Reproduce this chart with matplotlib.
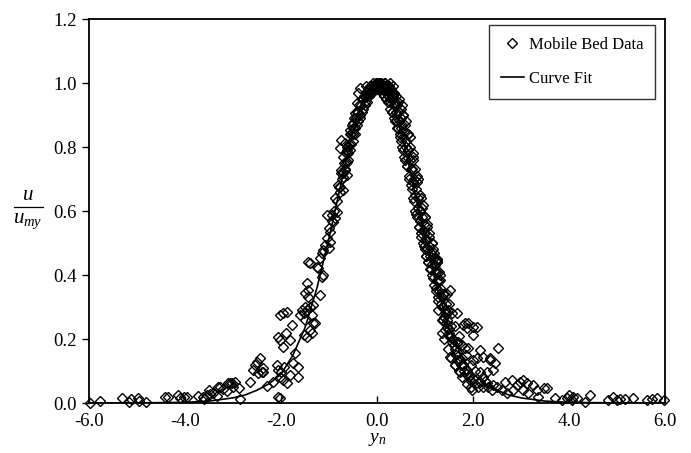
import matplotlib
matplotlib.use("Agg")
import matplotlib.pyplot as plt
from matplotlib.lines import Line2D

plt.rcParams['font.family'] = ['Liberation Serif', 'DejaVu Serif']
plt.rcParams['mathtext.fontset'] = 'custom'
plt.rcParams['mathtext.it'] = 'Liberation Serif:italic'
plt.rcParams['mathtext.rm'] = 'Liberation Serif'

data_yn = [
    # far left tail
    -5.98, -5.77, -5.32, -5.16, -5.13, -4.97, -4.95, -4.81,
    -4.42, -4.35, -4.14, -4.10, -4.03, -3.96,
    -3.72, -3.60, -3.51, -3.48, -3.34, -3.31, -3.21, -3.13, -3.10, -3.03,
    -2.99, -2.96, -2.87, -2.85, -2.65, -3.06, -3.27, -3.41, -3.55, -3.62,
    # left scatter around -2.5 .. -1.3
    -2.54, -2.51, -2.44, -2.40, -2.38, -2.30, -2.58, -2.47, -2.37,
    -2.16, -2.09, -2.06, -2.02, -2.02, -1.99, -1.95, -1.94, -1.88, -1.81,
    -1.74, -1.71, -1.64, -1.64, -2.06, -2.02, -1.95, -1.90, -1.81, -1.78,
    -2.02, -1.96, -1.88, -1.60, -1.53, -1.50, -1.46, -1.40, -1.36, -1.33,
    -1.36, -1.33, -2.06, -1.46, -1.43, -1.50, -1.40, -1.26, -1.29,
    -1.40, -1.46, -1.53, -1.57, -1.50, -1.43, -1.19,
    # left flank
    -1.43, -1.22, -1.15, -1.12, -1.19, -1.15, -1.12, -1.08, -1.05, -1.01,
    -0.98, -1.05, -1.01, -0.98, -0.94, -0.91, -0.87, -0.84, -0.80, -0.77,
    -0.70, -0.67, -0.63, -0.63, -0.70, -0.74, -0.70, -0.77, -0.63, -0.67,
    -0.74, -0.70, -0.56, -0.49, -0.46, -0.42, -0.39, -0.35,
    -0.02, -0.05, -0.08, -0.10, -0.12, -0.15, -0.18, -0.20, -0.22, -0.25,
    -0.27, -0.30, -0.32, -0.35, -0.37, -0.40, -0.42, -0.45, -0.47, -0.50,
    -0.52, -0.55, -0.57, -0.60, -0.62, -0.65,
    -0.01, -0.03, -0.06, -0.09, -0.11, -0.14, -0.16, -0.19, -0.21, -0.24,
    -0.26, -0.29, -0.31, -0.34, -0.36, -0.39, -0.41, -0.44, -0.46, -0.49,
    -0.51, -0.54, -0.56, -0.59, -0.61, -0.64, -0.66, -0.69, -0.72, -0.75,
    -0.78, -0.81, -0.84, -0.87, -0.90, -0.93, -0.22,
    # right band
    0.00, 0.02, 0.04, 0.05, 0.07, 0.09, 0.10, 0.12, 0.14, 0.15, 0.17, 0.19,
    0.20, 0.22, 0.24, 0.25, 0.27, 0.29, 0.30, 0.32, 0.34, 0.35, 0.37, 0.39,
    0.40, 0.42, 0.44, 0.45, 0.47, 0.49, 0.50, 0.52, 0.54, 0.55, 0.57, 0.59,
    0.60, 0.62, 0.64, 0.65, 0.67, 0.69, 0.70, 0.72, 0.74, 0.75, 0.77, 0.79,
    0.80, 0.82, 0.84, 0.85, 0.87, 0.89, 0.90, 0.92, 0.94, 0.95, 0.97, 0.99,
    1.00, 1.02, 1.04, 1.05, 1.07, 1.09, 1.10, 1.12, 1.14, 1.15, 1.17, 1.19,
    1.20, 1.22, 1.24, 1.25, 1.27, 1.29, 1.30, 1.33, 1.36, 1.38, 1.40, 1.44,
    1.46, 1.50, 1.55, 1.58, 1.62, 1.68,
    0.45, 0.55, 0.65, 0.75, 0.85, 0.95, 1.05, 1.15, 1.25,
    0.01, 0.03, 0.05, 0.07, 0.09, 0.11, 0.13, 0.15, 0.17, 0.19, 0.21, 0.23,
    0.25, 0.27, 0.29, 0.31, 0.33, 0.35, 0.37, 0.39, 0.41, 0.43, 0.45, 0.47,
    0.49, 0.51, 0.53, 0.55, 0.57, 0.59, 0.61, 0.63, 0.65, 0.67, 0.69, 0.71,
    0.73, 0.75, 0.77, 0.79, 0.81, 0.83, 0.85, 0.87, 0.89, 0.91, 0.93, 0.95,
    0.97, 0.99, 1.01, 1.03, 1.05, 1.07, 1.09, 1.11, 1.13, 1.15, 1.17, 1.19,
    1.21, 1.23, 1.25, 1.27, 1.29,
    0.28, 0.33, 0.36, 0.52, 0.60, 0.68, 0.76, 0.84, 0.92, 1.00, 1.08, 1.16,
    1.24, 1.32, 1.40,
    1.17, 1.24, 1.52, 1.31, 1.66, 1.83, 2.00, 1.38, 1.45,
    # right lower band and scatter
    1.28, 1.45, 1.35, 1.42, 1.52, 1.66, 1.80, 1.87, 2.00, 1.90, 2.15, 2.08,
    2.35, 2.46, 2.29, 2.15, 1.83,
    1.52, 1.66, 1.80, 1.87, 1.94, 2.00, 2.15, 2.29, 2.42, 1.97, 1.73, 1.63,
    2.53, 1.90, 2.08, 2.21, 2.35, 2.42, 2.00,
    1.32, 1.35, 1.37, 1.41, 1.43, 1.47, 1.49, 1.53, 1.56, 1.60, 1.64, 1.67,
    1.70, 1.75, 1.78, 1.82, 1.85, 1.92, 1.96, 2.05, 2.10, 2.20, 2.25, 2.32,
    2.40, 2.50, 2.60,
    1.45, 1.50, 1.56, 1.62, 1.70, 1.78, 1.86, 1.95, 2.05, 2.20,
    1.35, 1.40, 1.48, 1.55, 1.62, 1.70, 1.78, 1.88, 1.95,
    # right tail
    2.67, 2.81, 2.91, 2.98, 3.05, 3.12, 3.26, 3.33, 3.47, 3.54, 3.36, 3.05,
    3.15, 2.70, 2.84,
    3.71, 3.85, 3.95, 3.99, 4.09, 4.06, 4.16, 4.33, 4.44,
    4.82, 4.92, 4.99, 5.06, 5.17, 5.34, 5.62, 5.72, 5.83, 5.97,
]
data_u = [
    0.000, 0.005, 0.016, 0.003, 0.012, 0.017, 0.006, 0.004,
    0.020, 0.020, 0.025, 0.015, 0.018, 0.018,
    0.022, 0.013, 0.040, 0.028, 0.022, 0.050, 0.043, 0.038, 0.062, 0.063,
    0.050, 0.066, 0.048, 0.012, 0.066, 0.061, 0.051, 0.030, 0.025, 0.020,
    0.119, 0.129, 0.140, 0.098, 0.108, 0.053, 0.103, 0.093, 0.098,
    0.067, 0.119, 0.103, 0.015, 0.082, 0.098, 0.072, 0.113, 0.061, 0.088,
    0.124, 0.155, 0.082, 0.113, 0.207, 0.197, 0.176, 0.218, 0.197, 0.244,
    0.275, 0.280, 0.285, 0.275, 0.280, 0.260, 0.290, 0.300, 0.275, 0.250,
    0.218, 0.306, 0.020, 0.374, 0.353, 0.343, 0.437, 0.426, 0.250,
    0.228, 0.207, 0.213, 0.291, 0.301, 0.332, 0.338,
    0.442, 0.421, 0.395, 0.400, 0.452, 0.468, 0.478, 0.494, 0.515, 0.546,
    0.535, 0.588, 0.483, 0.504, 0.588, 0.567, 0.577, 0.598, 0.676, 0.676,
    0.666, 0.728, 0.754, 0.713, 0.718, 0.822, 0.770, 0.796, 0.791, 0.812,
    0.728, 0.707, 0.853, 0.874, 0.905, 0.937, 0.968, 0.983,
    1.00, 0.99, 1.00, 0.98, 0.99, 0.97, 0.98, 0.96, 0.97, 0.94,
    0.96, 0.92, 0.95, 0.90, 0.93, 0.88, 0.91, 0.86, 0.89, 0.84,
    0.87, 0.81, 0.84, 0.78, 0.80, 0.75,
    0.99, 1.00, 0.98, 0.99, 0.97, 0.99, 0.96, 0.97, 0.94, 0.96,
    0.93, 0.95, 0.91, 0.93, 0.89, 0.91, 0.87, 0.89, 0.84, 0.86,
    0.82, 0.84, 0.79, 0.81, 0.76, 0.78, 0.73, 0.75, 0.70, 0.72,
    0.66, 0.68, 0.63, 0.64, 0.60, 0.57, 0.99,
    1.00, 0.99, 1.00, 0.99, 1.00, 0.98, 0.99, 0.98, 1.00, 0.98, 0.99, 0.97,
    0.98, 0.96, 0.99, 0.97, 0.94, 0.98, 0.95, 0.91, 0.97, 0.93, 0.88, 0.96,
    0.91, 0.86, 0.94, 0.885, 0.83, 0.92, 0.86, 0.80, 0.90, 0.83, 0.77, 0.87,
    0.80, 0.74, 0.84, 0.765, 0.70, 0.80, 0.73, 0.67, 0.77, 0.69, 0.63, 0.73,
    0.65, 0.59, 0.69, 0.61, 0.55, 0.65, 0.57, 0.52, 0.61, 0.54, 0.49, 0.58,
    0.51, 0.46, 0.55, 0.485, 0.44, 0.52, 0.46, 0.42, 0.50, 0.435, 0.39, 0.47,
    0.41, 0.36, 0.44, 0.38, 0.33, 0.41, 0.35, 0.31, 0.33, 0.30, 0.27, 0.31,
    0.26, 0.23, 0.24, 0.20, 0.17, 0.19,
    0.95, 0.90, 0.84, 0.78, 0.70, 0.62, 0.56, 0.50, 0.45,
    0.99, 0.98, 1.00, 0.98, 1.00, 0.97, 0.99, 0.96, 1.00, 0.95, 0.99, 0.94,
    0.98, 0.92, 0.97, 0.91, 0.96, 0.89, 0.94, 0.88, 0.93, 0.86, 0.91, 0.84,
    0.89, 0.82, 0.87, 0.79, 0.85, 0.76, 0.82, 0.74, 0.79, 0.71, 0.76, 0.68,
    0.73, 0.64, 0.70, 0.60, 0.67, 0.58, 0.64, 0.55, 0.60, 0.53, 0.58, 0.50,
    0.56, 0.48, 0.53, 0.46, 0.51, 0.44, 0.49, 0.42, 0.47, 0.40, 0.45, 0.37,
    0.43, 0.35, 0.41, 0.32, 0.38,
    1.00, 0.99, 0.97, 0.93, 0.88, 0.83, 0.76, 0.71, 0.64, 0.58, 0.53, 0.48,
    0.44, 0.40, 0.34,
    0.462, 0.447, 0.353, 0.384, 0.280, 0.249, 0.238, 0.259, 0.238,
    0.290, 0.280, 0.260, 0.228, 0.207, 0.186, 0.244, 0.233, 0.213, 0.171,
    0.166, 0.140, 0.140, 0.124, 0.098, 0.098, 0.171,
    0.145, 0.134, 0.119, 0.103, 0.088, 0.077, 0.067, 0.061, 0.056, 0.041,
    0.098, 0.119,
    0.171, 0.249, 0.238, 0.145, 0.134, 0.103, 0.134,
    0.36, 0.30, 0.34, 0.28, 0.25, 0.29, 0.22, 0.21, 0.19, 0.18, 0.15, 0.16,
    0.13, 0.12, 0.14, 0.10, 0.09, 0.08, 0.07, 0.06, 0.05, 0.05, 0.07, 0.05,
    0.04, 0.05, 0.04,
    0.34, 0.31, 0.28, 0.24, 0.21, 0.18, 0.15, 0.12, 0.10, 0.08,
    0.22, 0.20, 0.17, 0.14, 0.12, 0.10, 0.08, 0.06, 0.05,
    0.067, 0.072, 0.056, 0.067, 0.072, 0.062, 0.056, 0.041, 0.046, 0.046,
    0.020, 0.041, 0.030, 0.030, 0.041,
    0.015, 0.010, 0.015, 0.025, 0.020, 0.010, 0.015, 0.004, 0.025,
    0.010, 0.020, 0.010, 0.012, 0.012, 0.015, 0.010, 0.012, 0.015, 0.010,
]

# curve fit
fit_yn = [-6.0, -5.0, -4.0, -3.5, -3.0, -2.75, -2.5, -2.25, -2.0, -1.75,
          -1.5, -1.25, -1.0, -0.875, -0.75, -0.625, -0.5, -0.375, -0.25,
          -0.125, 0.0, 0.125, 0.25, 0.375, 0.5, 0.625, 0.75, 0.875, 1.0,
          1.25, 1.5, 1.75, 2.0, 2.25, 2.5, 2.75, 3.0, 3.5, 4.0, 5.0, 6.0]
fit_u = [0.0, 0.0003, 0.002, 0.006, 0.016, 0.025, 0.040, 0.060, 0.090, 0.150,
         0.235, 0.360, 0.515, 0.600, 0.685, 0.770, 0.845, 0.910, 0.958,
         0.990, 1.000, 0.990, 0.958, 0.910, 0.845, 0.770, 0.685, 0.600, 0.515,
         0.360, 0.235, 0.150, 0.090, 0.060, 0.040, 0.025, 0.016, 0.006, 0.002,
         0.0003, 0.0]

xticks = [-6.0, -4.0, -2.0, 0.0, 2.0, 4.0, 6.0]
yticks = [0.0, 0.2, 0.4, 0.6, 0.8, 1.0, 1.2]

fig = plt.figure(figsize=(6.91, 4.53), dpi=100)
ax = fig.add_axes([89 / 691, 50 / 453, 576 / 691, 384 / 453])

ax.plot(data_yn, data_u, linestyle='none', marker='D', markersize=4.8,
        markerfacecolor='none', markeredgecolor='black', markeredgewidth=1.0,
        clip_on=False, zorder=3)
ax.plot(fit_yn, fit_u, color='black', linewidth=1.2, zorder=4)

ax.set_xlim(-6, 6)
ax.set_ylim(0, 1.2)
ax.set_xticks(xticks)
ax.set_yticks(yticks)
ax.set_xticklabels([f"{t:.1f}" for t in xticks])
ax.set_yticklabels([f"{t:.1f}" for t in yticks])
ax.tick_params(axis='both', labelsize=13.5, width=1, color='black')
ax.tick_params(axis='x', direction='in', length=5, pad=7)
ax.tick_params(axis='y', direction='out', length=5, pad=4)
for s in ax.spines.values():
    s.set_linewidth(1.3)

ax.set_xlabel(r'$y_n$', fontsize=14, labelpad=1)

# fraction-style y label
fig.text(28 / 691, 1 - 195 / 453, r'$u$', fontsize=15, ha='center', va='center')
fig.add_artist(Line2D([14 / 691, 43 / 691], [1 - 207 / 453, 1 - 207 / 453],
                      color='black', linewidth=0.9))
fig.text(28 / 691, 1 - 221 / 453, r'$u_{my}$', fontsize=15, ha='center', va='center')

handles = [
    Line2D([], [], linestyle='none', marker='D', markersize=4.8,
           markerfacecolor='none', markeredgecolor='black', markeredgewidth=1.0),
    Line2D([], [], color='black', linewidth=1.2),
]
leg = ax.legend(handles, ['Mobile Bed Data', 'Curve Fit'], loc='upper right',
                bbox_to_anchor=(655 / 691, 428 / 453), bbox_transform=fig.transFigure,
                fontsize=12, frameon=True, fancybox=False, labelspacing=1.1,
                handlelength=1.4, handletextpad=0.3, borderpad=0.7, borderaxespad=0)
leg.get_frame().set_edgecolor('black')
leg.get_frame().set_linewidth(1.0)

fig.savefig("out.png", dpi=100)
